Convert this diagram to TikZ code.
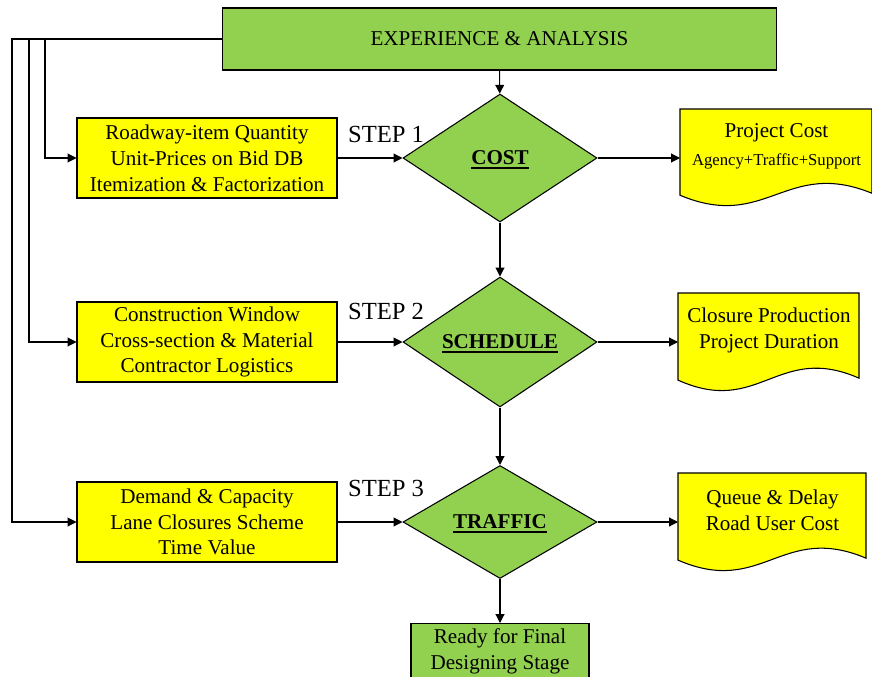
\documentclass[tikz,border=0pt]{standalone}
\usepackage{fontspec}
\setmainfont{Liberation Serif}
\usepackage{tikz}
\usetikzlibrary{shapes.geometric, arrows.meta}
\definecolor{boxgreen}{RGB}{146,208,80}
\definecolor{boxyellow}{RGB}{255,255,0}
\tikzset{
  every picture/.style={line width=0.6pt},
  flow/.style={-{Triangle[length=5pt,width=5pt]}},
  box/.style={draw, fill=boxyellow, minimum width=5.2cm, minimum height=1.6cm, inner sep=0,
    align=center, font=\fontsize{12}{14.7}\selectfont},
  decision/.style={diamond, draw, fill=boxgreen, inner sep=0, minimum width=3.88cm,
    font=\bfseries\fontsize{12}{14}\selectfont},
  stage/.style={draw, fill=boxgreen, inner sep=0, align=center,
    font=\fontsize{12}{14.7}\selectfont},
  steplabel/.style={font=\fontsize{14}{16}\selectfont, inner sep=0},
  doctext/.style={align=center, inner sep=0, font=\fontsize{12}{15}\selectfont}
}
% heavy underline for the decision labels (no depth, so caps stay centred)
\newcommand{\boldul}[1]{\leavevmode\setbox0=\hbox{#1}%
  \setbox1=\vtop{\copy0\kern1.3pt\hrule height 1.1pt width \wd0}\dp1=0pt\box1}
% document shape: corner (x,y), width, height in px, wavy lower edge
\newcommand{\docbody}[4]{%
  \filldraw[fill=boxyellow] (#1,#2) -- ({#1+#3},#2) -- ({#1+#3},{#2+0.86*#4})
    .. controls ({#1+0.55*#3},{#2+0.5*#4}) and ({#1+0.45*#3},{#2+1.25*#4}) .. (#1,{#2+0.88*#4}) -- cycle;
}

\begin{document}
\begin{tikzpicture}[x=0.02cm, y=-0.02cm]
  \useasboundingbox (0,0) rectangle (872,676);

  % top stage
  \node[stage, minimum width=11.1cm, minimum height=1.24cm] (exp) at (499.5,39) {EXPERIENCE \& ANALYSIS};

  % input boxes
  \node[box] (road) at (207,158) {Roadway-item Quantity\\Unit-Prices on Bid DB\\Itemization \& Factorization};
  \node[box] (window) at (207,342) {Construction Window\\Cross-section \& Material\\Contractor Logistics};
  \node[box] (demand) at (207,522) {Demand \& Capacity\\Lane Closures Scheme\\Time Value};

  % decisions
  \node[decision, minimum height=2.56cm] (cost) at (500,158) {\boldul{COST}};
  \node[decision, minimum height=2.42cm] (sched) at (500,342) {\boldul{SCHEDULE}};
  \node[decision, minimum height=2.26cm] (traffic) at (500,522) {\boldul{TRAFFIC}};

  % step labels
  \node[steplabel] (step1) at (386,134) {STEP 1};
  \node[steplabel] (step2) at (386,311) {STEP 2};
  \node[steplabel] (step3) at (386,488) {STEP 3};

  % outputs
  \docbody{680}{109}{192}{98}
  \node[doctext, anchor=north west, minimum width=3.84cm, minimum height=1.47cm] (pcost) at (680,109)
    {Project Cost\\[1pt]{\fontsize{9.5}{11}\selectfont Agency+Traffic+Support}};
  \docbody{678}{293}{181}{99}
  \node[doctext, anchor=north west, minimum width=3.62cm, minimum height=1.48cm] (prod) at (678,293)
    {Closure Production\\Project Duration};
  \docbody{678}{473}{188}{99}
  \node[doctext, anchor=north west, minimum width=3.76cm, minimum height=1.48cm] (queue) at (678,473)
    {Queue \& Delay\\Road User Cost};

  % final stage
  \node[stage, anchor=north, minimum width=3.56cm, minimum height=1.1cm] (ready) at (500,623)
    {Ready for Final\\Designing Stage};

  % main flow
  \draw[flow] (exp) -- (cost);
  \draw[flow] (cost) -- (sched);
  \draw[flow] (sched) -- (traffic);
  \draw[flow] (traffic) -- (ready);

  \draw[flow] (road) -- (cost);
  \draw[flow] (window) -- (sched);
  \draw[flow] (demand) -- (traffic);

  \draw[flow] (cost.east) -- (cost.east -| pcost.west);
  \draw[flow] (sched.east) -- (sched.east -| prod.west);
  \draw[flow] (traffic.east) -- (traffic.east -| queue.west);

  % feedback lines
  \coordinate (fb1) at (45,0);
  \coordinate (fb2) at (29,0);
  \coordinate (fb3) at (12,0);
  \draw[flow] (exp.west) -| (fb1 |- road.west) -- (road.west);
  \draw[flow] (exp.west) -| (fb2 |- window.west) -- (window.west);
  \draw[flow] (exp.west) -| (fb3 |- demand.west) -- (demand.west);
\end{tikzpicture}
\end{document}
